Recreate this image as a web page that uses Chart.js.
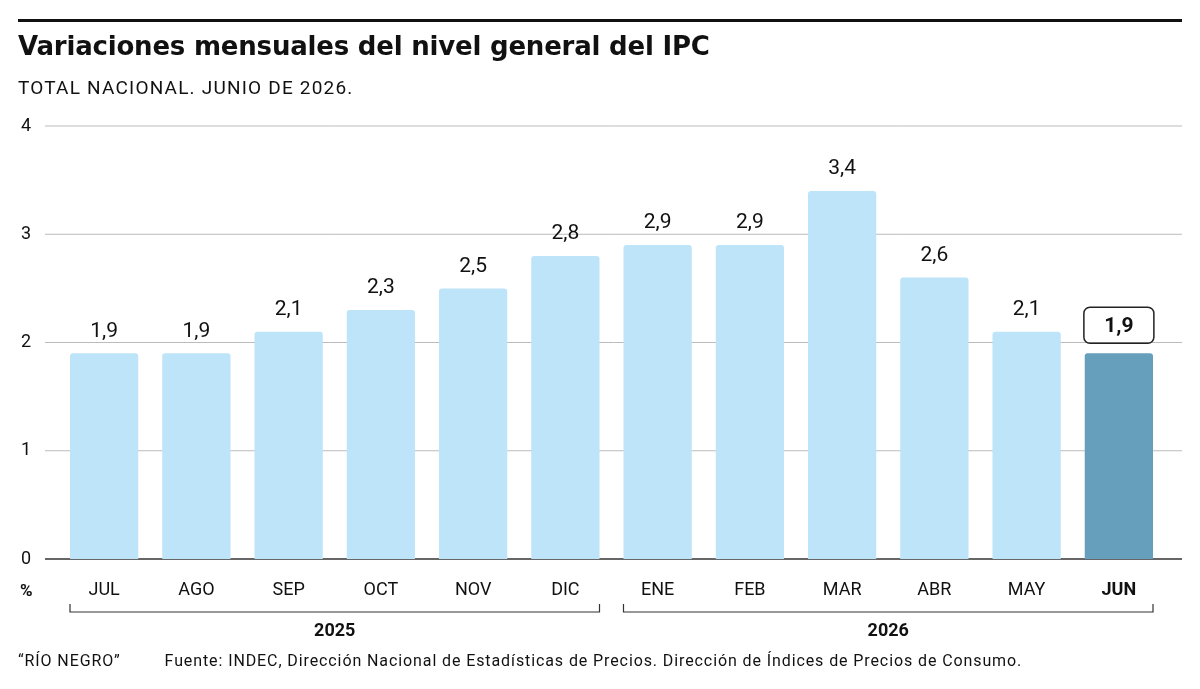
<!DOCTYPE html>
<html><head><meta charset="utf-8">
<script src="https://cdn.jsdelivr.net/npm/chart.js@4"></script>
<style>
body{margin:0;background:#fff;font-family:Roboto,sans-serif}
#wrap{position:relative;width:1200px;height:689px}
canvas{position:absolute;left:0;top:0}
.t{position:absolute;left:18px;white-space:nowrap;color:#111}
</style></head><body>
<div id="wrap">
<canvas id="c" width="1200" height="689"></canvas>
<div class="t" style="top:31px;font-family:'DejaVu Sans',sans-serif;font-size:26px;font-weight:700;letter-spacing:-0.2px">Variaciones mensuales del nivel general del IPC</div>
<div class="t" style="top:76px;font-size:19px;letter-spacing:1.2px">TOTAL NACIONAL. JUNIO DE 2026.</div>
<div class="t" style="top:651px;font-size:16px;letter-spacing:0.9px">“RÍO NEGRO”&nbsp;&nbsp;&nbsp;&nbsp;&nbsp;&nbsp;&nbsp;&nbsp;&nbsp;Fuente: INDEC, Dirección Nacional de Estadísticas de Precios. Dirección de Índices de Precios de Consumo.</div>
</div>
<script>
const months = ["JUL","AGO","SEP","OCT","NOV","DIC","ENE","FEB","MAR","ABR","MAY","JUN"];
const values = [1.9,1.9,2.1,2.3,2.5,2.8,2.9,2.9,3.4,2.6,2.1,1.9];
const yTicks = [0,1,2,3,4];
const years = [{label:"2025",from:0,to:5},{label:"2026",from:6,to:11}];
const last = values.length - 1;

const decor = {
  id: "decor",
  beforeDatasetsDraw(chart) {
    const ctx = chart.ctx, y = chart.scales.y;
    ctx.save();
    ctx.fillStyle = "#111";
    ctx.fillRect(18, 19, 1164, 3);
    ctx.font = "18px Roboto";
    ctx.textBaseline = "middle";
    yTicks.forEach(t => {
      const py = y.getPixelForValue(t);
      ctx.strokeStyle = t === 0 ? "#333" : "#bbb";
      ctx.lineWidth = t === 0 ? 1.5 : 1;
      ctx.beginPath(); ctx.moveTo(45, py); ctx.lineTo(1182, py); ctx.stroke();
      ctx.fillStyle = "#111"; ctx.textAlign = "left";
      ctx.fillText(String(t), 21, py);
    });
    ctx.restore();
  },
  afterDatasetsDraw(chart) {
    const ctx = chart.ctx, x = chart.scales.x;
    const meta = chart.getDatasetMeta(0);
    ctx.save();
    ctx.fillStyle = "#111";
    ctx.textAlign = "center";
    ctx.textBaseline = "middle";
    meta.data.forEach((bar, i) => {
      const label = values[i].toFixed(1).replace(".", ",");
      if (i === last) {
        ctx.font = "bold 21px Roboto";
        ctx.strokeStyle = "#222"; ctx.lineWidth = 1.5;
        ctx.beginPath(); ctx.roundRect(bar.x - 35, bar.y - 46, 70, 36, 6); ctx.stroke();
        ctx.fillText(label, bar.x, bar.y - 27);
      } else {
        ctx.font = "21px Roboto";
        ctx.fillText(label, bar.x, bar.y - 22);
      }
      ctx.font = (i === last ? "bold " : "") + "18px Roboto";
      ctx.fillText(months[i], x.getPixelForValue(i), 590);
    });
    ctx.font = "bold 17px Roboto";
    ctx.textAlign = "left";
    ctx.fillText("%", 20, 592);
    ctx.strokeStyle = "#333"; ctx.lineWidth = 1.2;
    years.forEach(g => {
      const a = meta.data[g.from], b = meta.data[g.to];
      const x1 = a.x - a.width / 2, x2 = b.x + b.width / 2;
      ctx.beginPath();
      ctx.moveTo(x1, 604); ctx.lineTo(x1, 612); ctx.lineTo(x2, 612); ctx.lineTo(x2, 604);
      ctx.stroke();
      ctx.font = "bold 18px Roboto"; ctx.textAlign = "center";
      ctx.fillText(g.label, (x1 + x2) / 2, 631);
    });
    ctx.restore();
  }
};

new Chart(document.getElementById("c"), {
  type: "bar",
  data: {
    labels: months,
    datasets: [{
      data: values,
      backgroundColor: values.map((v, i) => i === last ? "#659fbb" : "#bde4f8"),
      borderRadius: {topLeft: 3, topRight: 3},
      borderSkipped: "bottom",
      barPercentage: 0.74,
      categoryPercentage: 1
    }]
  },
  options: {
    responsive: false,
    animation: false,
    layout: {padding: {left: 58, right: 35, top: 126, bottom: 130}},
    plugins: {legend: {display: false}, tooltip: {enabled: false}},
    scales: {
      x: {display: false},
      y: {display: false, min: 0, max: 4}
    }
  },
  plugins: [decor]
});
</script>
</body></html>
